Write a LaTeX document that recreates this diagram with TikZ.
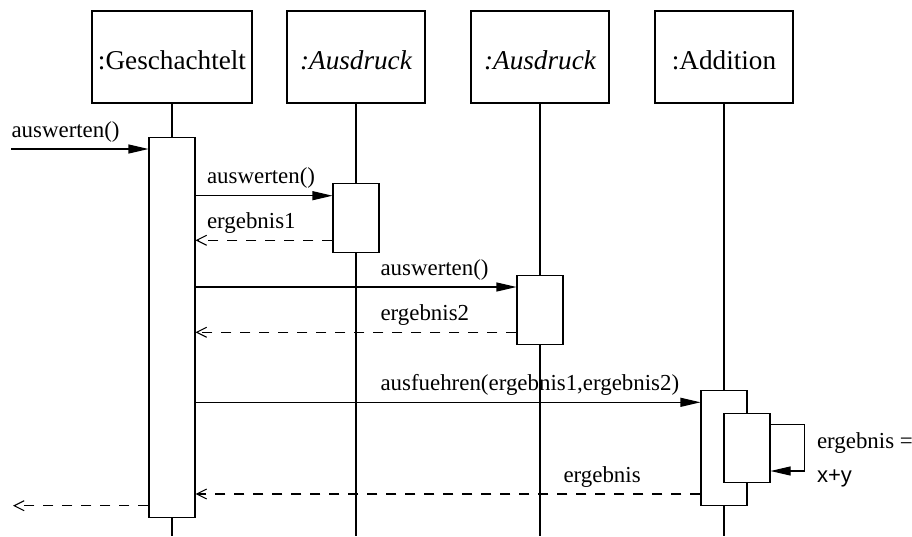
\documentclass[tikz,border=0pt]{standalone}
\usepackage{fontspec}
\setmainfont{Liberation Serif}
\newfontfamily\formulafont{Liberation Sans}
\usetikzlibrary{arrows.meta}

\begin{document}
\begin{tikzpicture}[x=1pt,y=-1pt,line width=1.05pt,
  objbox/.style={draw,rectangle,minimum width=#1,minimum height=92pt,
    inner sep=0pt,font=\fontsize{27.2}{30}\selectfont},
  activation/.style={draw,fill=white,rectangle,minimum width=46pt,
    minimum height=#1,inner sep=0pt},
  lifeline/.style={draw},
  call/.style={-{Triangle[length=20pt,width=9pt]}},
  reply/.style={dash pattern=on 10pt off 9pt,-{Straight Barb[length=10pt,width=10pt]}},
  msg/.style={anchor=base west,inner sep=0pt,font=\fontsize{22.9}{26}\selectfont}]

\useasboundingbox (0,0) rectangle (912,536);

% object heads
\node[objbox=160pt] (geschachtelt) at (172,57) {};
\node[objbox=138pt] (ausdruckA) at (356,57) {};
\node[objbox=138pt] (ausdruckB) at (540,57) {};
\node[objbox=138pt] (addition) at (724,57) {};
\node[anchor=base,inner sep=0pt,font=\fontsize{27.2}{30}\selectfont] at (172,69.5) {:Geschachtelt};
\node[anchor=base,inner sep=0pt,font=\fontsize{27.2}{30}\selectfont\itshape] at (356,69.5) {:Ausdruck};
\node[anchor=base,inner sep=0pt,font=\fontsize{27.2}{30}\selectfont\itshape] at (540,69.5) {:Ausdruck};
\node[anchor=base,inner sep=0pt,font=\fontsize{27.2}{30}\selectfont] at (724,69.5) {:Addition};

% lifeline ends
\coordinate (endG) at (172,536);
\coordinate (endA) at (356,536);
\coordinate (endB) at (540,536);
\coordinate (endC) at (724,536);
\draw[lifeline] (geschachtelt.south) -- (endG);
\draw[lifeline] (ausdruckA.south) -- (endA);
\draw[lifeline] (ausdruckB.south) -- (endB);
\draw[lifeline] (addition.south) -- (endC);

% activations
\node[activation=379.7pt] (actG) at (172,327.2) {};
\node[activation=69pt] (actA) at (356,217.8) {};
\node[activation=69pt] (actB) at (540,309.8) {};
\node[activation=115pt] (actC) at (724,448.2) {};
\node[activation=68.6pt] (actCi) at (747,448) {};

% message heights
\coordinate (inStart) at (11,149);
\coordinate (outEnd) at (13,505.7);
\coordinate (yA1) at (0,195.7);
\coordinate (yA2) at (0,240.3);
\coordinate (yB1) at (0,287);
\coordinate (yB2) at (0,332.3);
\coordinate (yC1) at (0,402.3);
\coordinate (yC2) at (0,494);
\coordinate (loopA) at (804.7,424.7);
\coordinate (loopB) at (804.7,471);

% messages
\draw[call] (inStart) -- (actG.west |- inStart);
\draw[call] (actG.east |- yA1) -- (actA.west |- yA1);
\draw[reply] (actA.west |- yA2) -- (actG.east |- yA2);
\draw[call] (actG.east |- yB1) -- (actB.west |- yB1);
\draw[reply] (actB.west |- yB2) -- (actG.east |- yB2);
\draw[call] (actG.east |- yC1) -- (actC.west |- yC1);
\draw[reply] (actC.west |- yC2) -- (actG.east |- yC2);
\draw[call] (actCi.east |- loopA) -- (loopA) -- (loopB) -- (actCi.east |- loopB);
\draw[reply] (actG.west |- outEnd) -- (outEnd);

% labels
\node[msg] (l1) at (11,137.5) {auswerten()};
\node[msg] (l2) at (206.5,183.5) {auswerten()};
\node[msg] (l3) at (206.5,228.5) {ergebnis1};
\node[msg] (l4) at (380,275) {auswerten()};
\node[msg] (l5) at (380,320) {ergebnis2};
\node[msg] (l6) at (380,390) {ausfuehren(ergebnis1,ergebnis2)};
\node[msg] (l7) at (563,482) {ergebnis};
\node[msg] (l8) at (816.5,448.5) {ergebnis =};
\node[msg,font=\fontsize{22}{26}\selectfont\formulafont] (l9) at (816.5,482.5) {x+y};
\end{tikzpicture}
\end{document}
